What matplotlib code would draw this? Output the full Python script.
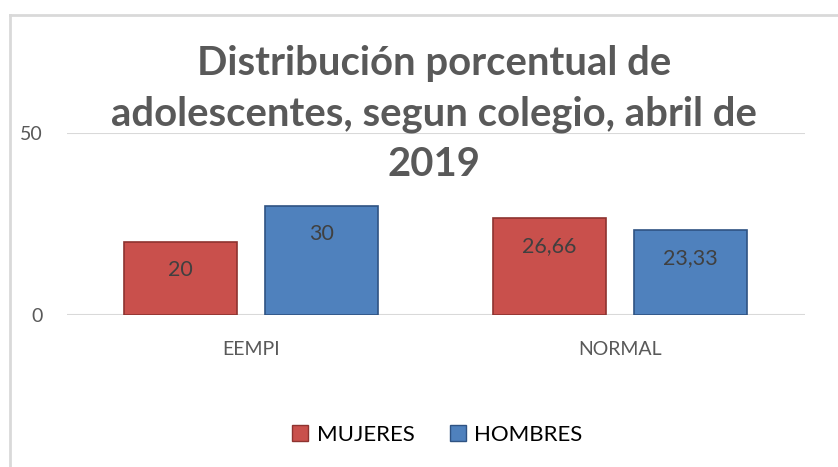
import numpy as np
import matplotlib.pyplot as plt
from matplotlib.patches import Patch

# Datos del gráfico
colegios = ['EEMPI', 'NORMAL']
mujeres = [20, 26.66]
hombres = [30, 23.33]
etiquetas_mujeres = ['20', '26,66']
etiquetas_hombres = ['30', '23,33']

plt.rcParams['font.family'] = ['Lato', 'DejaVu Sans']

fig = plt.figure(figsize=(8.38, 4.67), dpi=100)
ax = fig.add_axes([66.5 / 838, 1 - 315 / 467, (804.5 - 66.5) / 838, (315 - 133) / 467])

x = np.arange(len(colegios))
ancho = 0.306
sep = 0.076
rojo = '#C9504C'
azul = '#4F81BD'

b1 = ax.bar(x - (ancho + sep) / 2, mujeres, ancho, color=rojo, edgecolor='#8E3330', linewidth=1.2)
b2 = ax.bar(x + (ancho + sep) / 2, hombres, ancho, color=azul, edgecolor='#2F5383', linewidth=1.2)

# Etiquetas dentro de las barras
for barras, textos in [(b1, etiquetas_mujeres), (b2, etiquetas_hombres)]:
    for b, t in zip(barras, textos):
        ax.annotate(t, (b.get_x() + b.get_width() / 2, b.get_height()),
                    xytext=(0, -20), textcoords='offset points',
                    ha='center', va='center', fontsize=15.5, color='#404040')

ax.set_xlim(-0.5, 1.5)
ax.set_ylim(0, 50)
ax.set_yticks([0, 50])
ax.set_xticks(x)
ax.set_xticklabels(colegios)
ax.tick_params(axis='both', length=0, labelsize=14, labelcolor='#595959')
ax.tick_params(axis='x', pad=19)
ax.tick_params(axis='y', pad=17)
for s in ax.spines.values():
    s.set_visible(False)
ax.axhline(50, color='#D9D9D9', lw=1.5, zorder=0)
ax.axhline(0, color='#D9D9D9', lw=1.5, zorder=0)

fig.text(0.518, 1 - 114 / 467,
         'Distribución porcentual de\nadolescentes, segun colegio, abril de\n2019',
         ha='center', va='center', fontsize=28.8, fontweight='bold', color='#595959',
         linespacing=1.45)

# Leyenda
handles = [Patch(facecolor=rojo, edgecolor='#8E3330', label='MUJERES'),
           Patch(facecolor=azul, edgecolor='#2F5383', label='HOMBRES')]
fig.legend(handles=handles, loc='center', bbox_to_anchor=(0.522, 1 - 435 / 467), ncol=2,
           frameon=False, fontsize=16, handlelength=0.7, handleheight=0.7,
           handletextpad=0.4, columnspacing=1.6)

# Borde del gráfico (izquierda y arriba)
fig.add_artist(plt.Line2D([10 / 838, 10 / 838], [0, 1 - 15 / 467], color='#D9D9D9', lw=2))
fig.add_artist(plt.Line2D([10 / 838, 1], [1 - 15 / 467, 1 - 15 / 467], color='#D9D9D9', lw=2))

fig.savefig('out.png', dpi=100)
